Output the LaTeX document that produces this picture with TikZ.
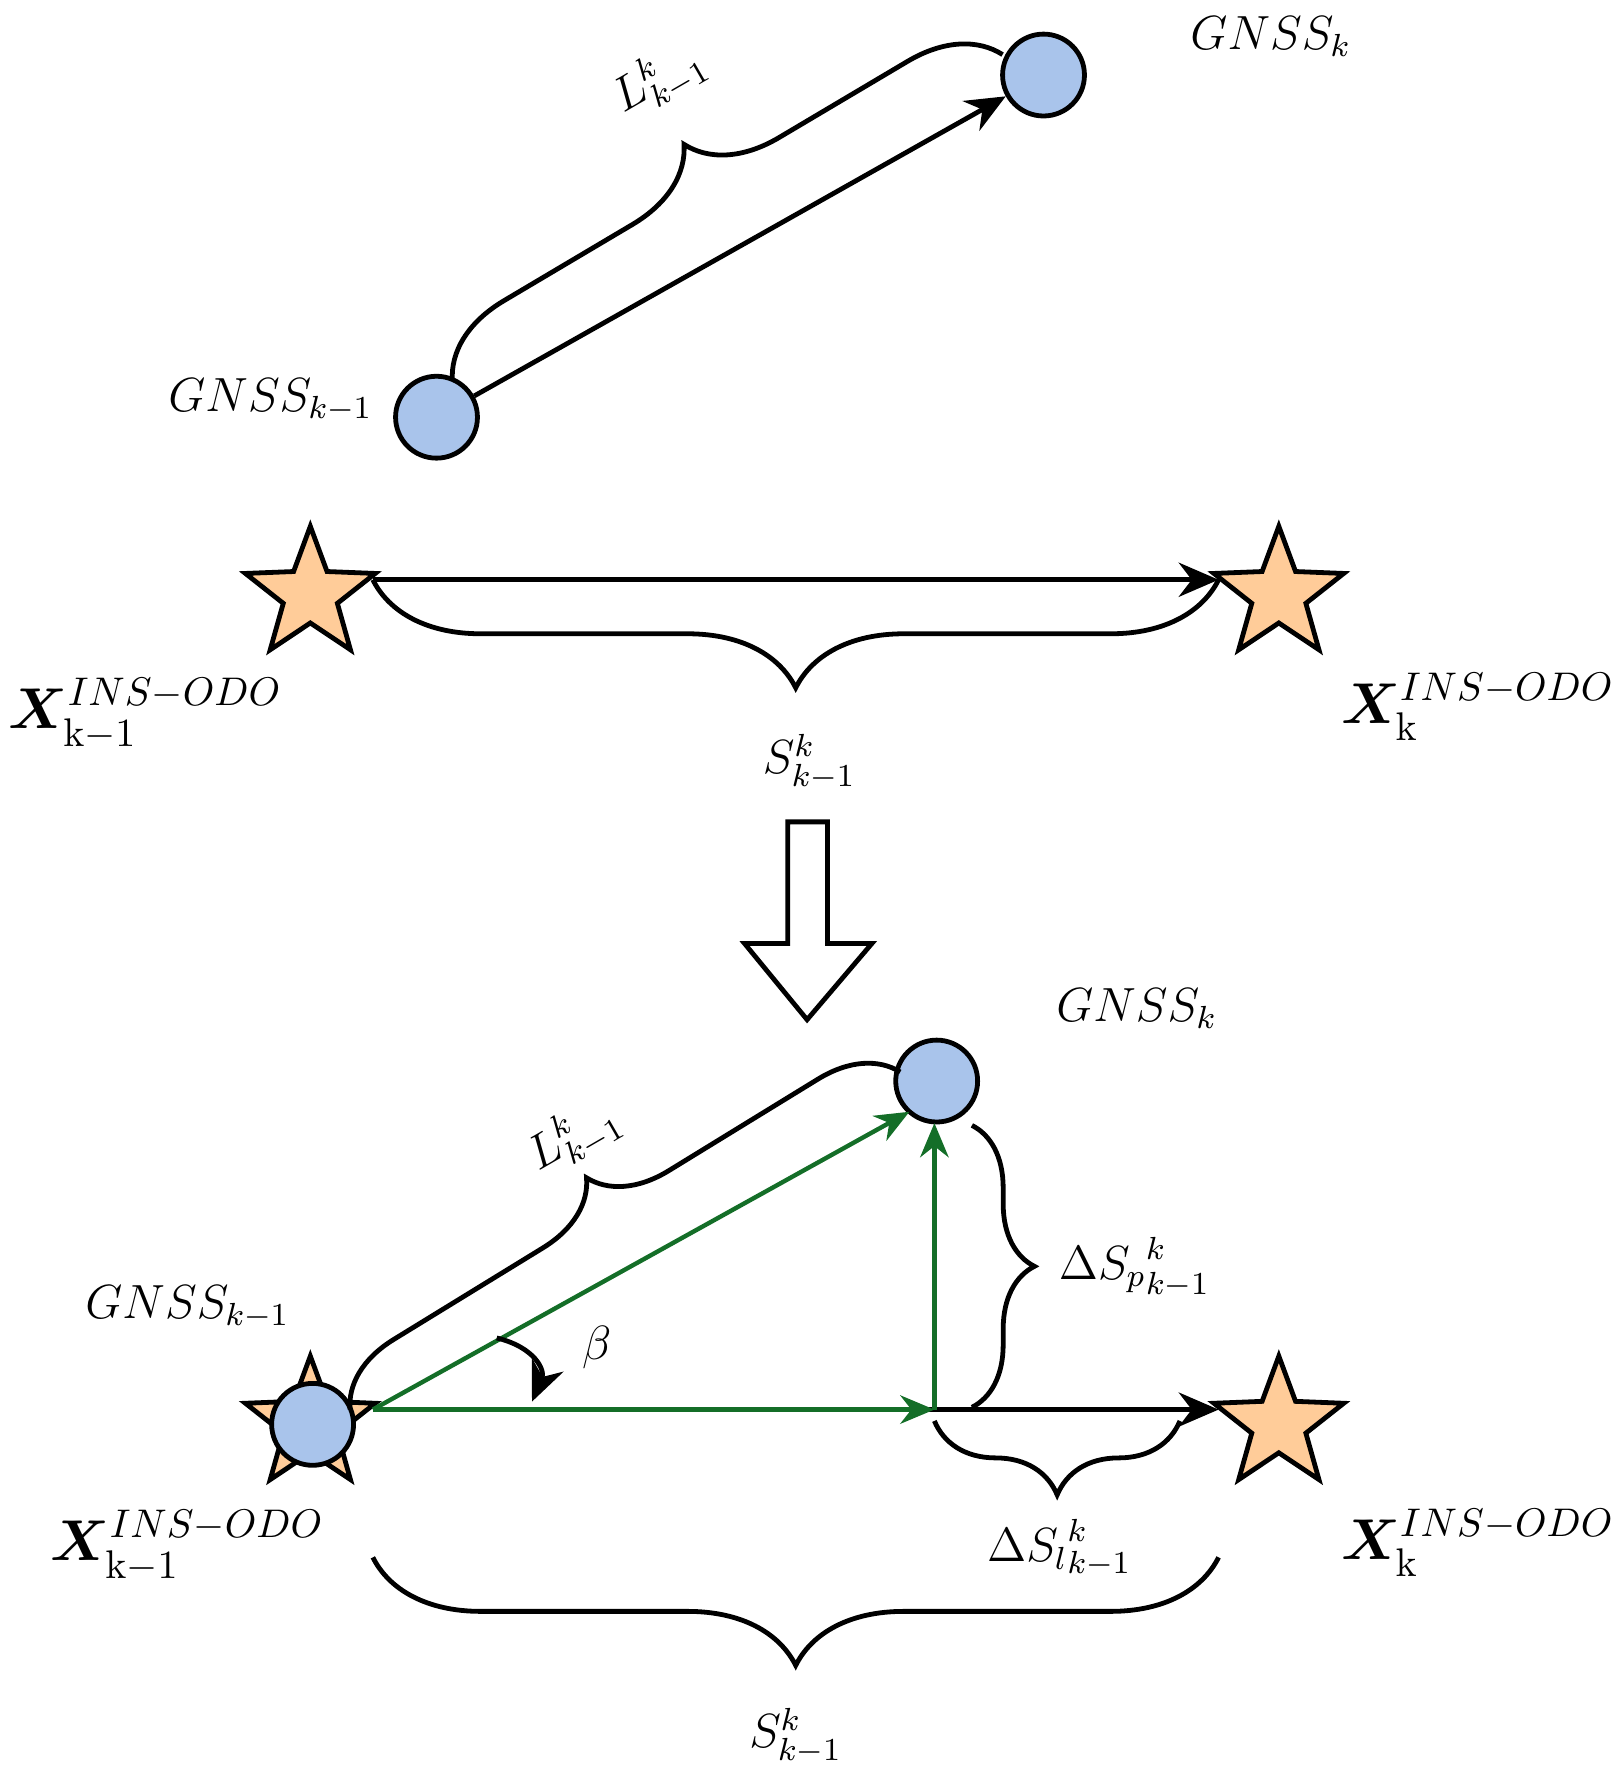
\documentclass[tikz,border=0pt]{standalone}
\usepackage{amsmath,bm}
\usetikzlibrary{shapes.geometric,decorations.pathreplacing,arrows.meta}
\definecolor{cblue}{RGB}{169,196,235}
\definecolor{corange}{RGB}{255,204,153}
\definecolor{cgreen}{RGB}{20,110,40}
\begin{document}
\begin{tikzpicture}[x=0.01cm,y=-0.01cm,
  gnss/.style={circle,draw,line width=1.2pt,fill=cblue,minimum size=0.72cm,inner sep=0},
  st/.style={star,star points=5,star point ratio=2.4,draw,line width=1.2pt,fill=corange,minimum size=1.2cm,inner sep=0},
  br/.style={decorate,decoration={brace,amplitude=#1},line width=1.2pt},
  br/.default=0.6cm,
  arr/.style={-{Stealth[length=0.35cm,width=0.3cm]},line width=1.2pt},
  garr/.style={-{Stealth[length=0.3cm,width=0.25cm]},line width=1.1pt,draw=cgreen},
  lab/.style={font=\large},
  xlab/.style={font=\Large}]
\useasboundingbox (0,0) rectangle (1424,1565);
% top
\node[gnss] (g2) at (918,66) {};
\node[gnss] (g1) at (384,367) {};
\node[lab] (lg2) at (1118,32) {$GNSS_k$};
\node[lab] (lg1) at (238,352) {$GNSS_{k-1}$};
\draw[arr] (g1) -- (g2);
\draw[br=0.75cm] (398,335) -- (882,48);
\node[lab,rotate=30] (lL1) at (580,70) {$L^k_{k-1}$};
\node[st] (s1) at (273,523) {};
\node[st] (s2) at (1125,523) {};
\draw[arr] (328,510) coordinate (a1) -- (1072,510) coordinate (a2);
\draw[br=0.95cm] (1072,510) -- (328,510);
\node[lab] (lS1) at (712,670) {$S^k_{k-1}$};
\node[xlab] (lx1) at (128,628) {$\bm{X}^{INS-ODO}_{\mathrm{k-1}}$};
\node[xlab] (lx2) at (1300,622) {$\bm{X}^{INS-ODO}_{\mathrm{k}}$};
% hollow arrow
\draw[line width=1.2pt,fill=white] (693,723) -- (728,723) -- (728,830) -- (767,830) -- (710,897) -- (655,830) -- (693,830) -- cycle;
% bottom
\node[st] (s3) at (273,1253) {};
\node[st] (s4) at (1125,1253) {};
\node[gnss] (g3) at (275,1253) {};
\node[gnss] (g4) at (824,951) {};
\node[lab] (lg4) at (1000,887) {$GNSS_k$};
\node[lab] (lg3) at (165,1150) {$GNSS_{k-1}$};
\coordinate (o) at (328,1240);
\coordinate (c) at (822,1240);
\draw[arr] (o) -- (1072,1240);
\draw[garr] (o) -- (800,978);
\draw[garr] (o) -- (c);
\draw[garr] (c) -- (822,988);
\draw[br=0.65cm] (308,1240) -- (792,943);
\node[lab,rotate=30] (lL2) at (505,1000) {$L^k_{k-1}$};
\draw[br=0.55cm] (855,990) -- (855,1238);
\node[lab] (lSp) at (998,1115) {$\Delta {S_p}^k_{k-1}$};
\draw[br=0.65cm] (1038,1250) -- (822,1250);
\node[lab] (lSl) at (932,1362) {$\Delta {S_l}^k_{k-1}$};
\draw[br=0.95cm] (1072,1370) -- (328,1370);
\node[lab] (lS2) at (700,1527) {$S^k_{k-1}$};
\draw[arr] (437,1177) .. controls (470,1185) and (480,1205) .. (468,1233);
\node[lab] (lb) at (525,1185) {$\beta$};
\node[xlab] (lx3) at (165,1360) {$\bm{X}^{INS-ODO}_{\mathrm{k-1}}$};
\node[xlab] (lx4) at (1300,1357) {$\bm{X}^{INS-ODO}_{\mathrm{k}}$};
\end{tikzpicture}
\end{document}
